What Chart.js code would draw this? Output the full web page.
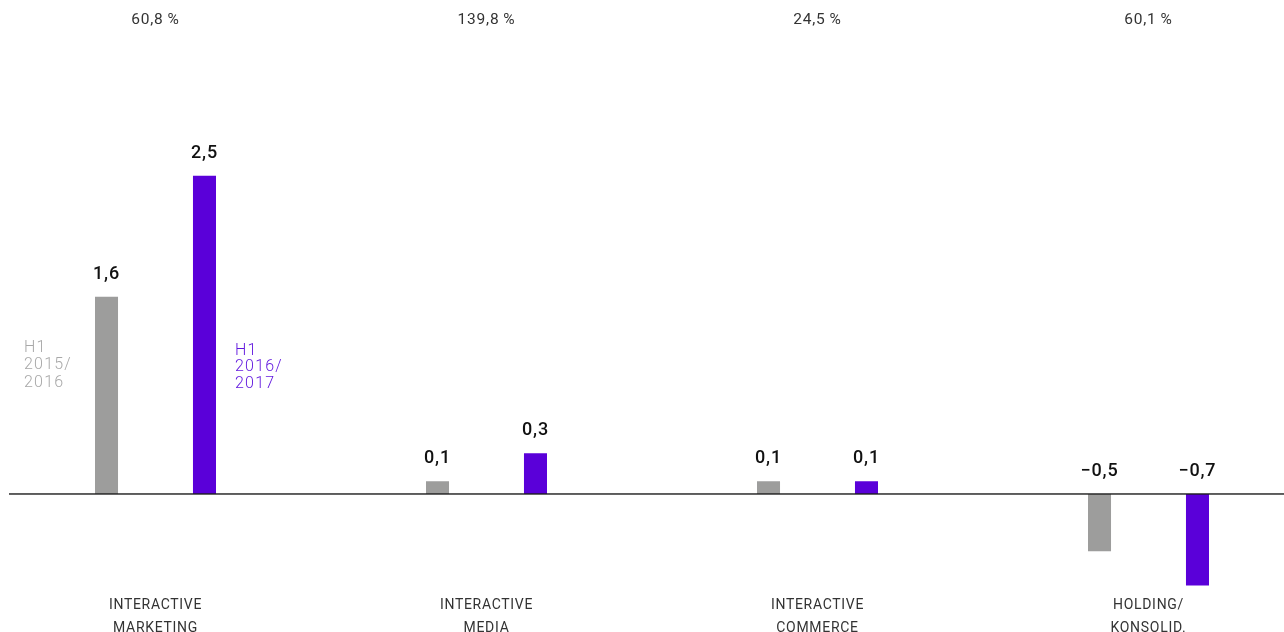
<!DOCTYPE html>
<html>
<head>
<meta charset="utf-8">
<script src="https://cdn.jsdelivr.net/npm/chart.js@4"></script>
<style>
  html, body { margin: 0; padding: 0; background: #fff; overflow: hidden; width: 1284px; height: 632px; }
  #wrap { position: absolute; left: -10px; top: 0; width: 1324px; height: 632px; }
</style>
</head>
<body>
<div id="wrap"><canvas id="segmentChart" width="1324" height="632"></canvas></div>
<script>
// categories (two lines each)
const categories = [
    ["INTERACTIVE", "MARKETING"],
    ["INTERACTIVE", "MEDIA"],
    ["INTERACTIVE", "COMMERCE"],
    ["HOLDING/", "KONSOLID."]
];
// growth shown above each group
const growthLabels = ["60,8\u2009%", "139,8\u2009%", "24,5\u2009%", "60,1\u2009%"];

// H1 2015/2016 and H1 2016/2017
const prevYear = [1.55, 0.1, 0.1, -0.45];
const currYear = [2.5, 0.32, 0.1, -0.72];
const prevYearLabels = ["1,6", "0,1", "0,1", "\u22120,5"];
const currYearLabels = ["2,5", "0,3", "0,1", "\u22120,7"];
const seriesNames = [["H1", "2015/", "2016"], ["H1", "2016/", "2017"]];

const GRAY = "#9d9d9c";
const PURPLE = "#5a00d9";

const textPlugin = {
    id: "segmentText",
    afterDatasetsDraw(chart) {
        const ctx = chart.ctx;
        const x = chart.scales.x;
        const y = chart.scales.y;
        const zeroY = y.getPixelForValue(0);
        const metaPrev = chart.getDatasetMeta(0).data;
        const metaCurr = chart.getDatasetMeta(1).data;
        ctx.save();

        // zero line
        ctx.fillStyle = "#1e1e1e";
        ctx.fillRect(19, zeroY - 0.7, chart.width - 19, 1.4);

        ctx.textAlign = "center";
        ctx.textBaseline = "alphabetic";

        // growth on top
        ctx.font = "15.5px Roboto";
        ctx.letterSpacing = "0.8px";
        ctx.fillStyle = "#333";
        growthLabels.forEach((t, i) => {
            ctx.fillText(t, x.getPixelForValue(i), 24);
        });

        // value labels
        ctx.font = "500 18px Roboto";
        ctx.letterSpacing = "0.8px";
        ctx.fillStyle = "#111";
        const drawVals = (bars, labels) => {
            bars.forEach((bar, i) => {
                const top = Math.min(bar.y, zeroY);
                ctx.fillText(labels[i], bar.x, top - 18);
            });
        };
        drawVals(metaPrev, prevYearLabels);
        drawVals(metaCurr, currYearLabels);

        // category labels
        ctx.font = "14px Roboto";
        ctx.fillStyle = "#333";
        ctx.letterSpacing = "0.7px";
        categories.forEach((lines, i) => {
            const cx = x.getPixelForValue(i);
            ctx.fillText(lines[0], cx, 609);
            ctx.fillText(lines[1], cx, 632);
        });

        // series names beside first group
        ctx.textAlign = "left";
        ctx.font = "300 16px Roboto";
        ctx.letterSpacing = "1.2px";
        ctx.fillStyle = "#a8a8a8";
        const gx = metaPrev[0].x - 82.5;
        [352, 369, 386.5].forEach((by, k) => ctx.fillText(seriesNames[0][k], gx, by));
        ctx.fillStyle = "#5f14de";
        const px = metaCurr[0].x + 30.5;
        [354.5, 371, 387.5].forEach((by, k) => ctx.fillText(seriesNames[1][k], px, by));

        ctx.letterSpacing = "0px";
        ctx.restore();
    }
};

new Chart(document.getElementById("segmentChart"), {
    type: "bar",
    data: {
        labels: categories.map(c => c.join(" ")),
        datasets: [{
            label: seriesNames[0].join(" "),
            data: prevYear,
            backgroundColor: GRAY,
            categoryPercentage: 0.592,
            barPercentage: 0.235
        }, {
            label: seriesNames[1].join(" "),
            data: currYear,
            backgroundColor: PURPLE,
            categoryPercentage: 0.592,
            barPercentage: 0.235
        }]
    },
    options: {
        responsive: false,
        animation: false,
        layout: { padding: { top: 137.6, bottom: 36.2, left: 0, right: 0 } },
        plugins: {
            legend: { display: false },
            tooltip: { enabled: false }
        },
        scales: {
            x: { display: false },
            y: { display: false, min: -0.8, max: 2.8 }
        }
    },
    plugins: [textPlugin]
});
</script>
</body>
</html>
